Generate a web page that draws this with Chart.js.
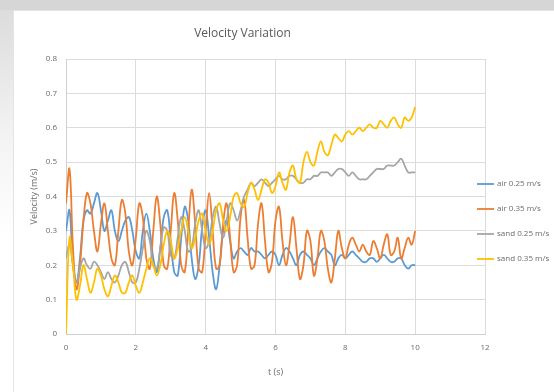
<!DOCTYPE html>
<html>
<head>
<meta charset="utf-8">
<script src="https://cdn.jsdelivr.net/npm/chart.js@4.4.1/dist/chart.umd.min.js"></script>
<style>
  html, body { margin: 0; padding: 0; background: #fff; }
  #wrap { position: relative; width: 554px; height: 392px; overflow: hidden; background: #fff; }
  #topband { position: absolute; left: 0; top: 0; width: 554px; height: 10px; background: #d6d6d6; }
  #side { position: absolute; left: 0; top: 10px; width: 13px; height: 382px;
    background: linear-gradient(160deg, #dcdcdc 0%, #f4f4f4 35%, #ffffff 60%); }
  #panel { position: absolute; left: 13px; top: 10px; width: 541px; height: 382px; border-left: 1px solid #e4e4e4; border-top: 1px solid #e4e4e4; }
  canvas { position: absolute; left: 0; top: 0; filter: blur(0.5px); }
</style>
</head>
<body>
<div id="wrap">
  <div id="topband"></div>
  <div id="side"></div>
  <div id="panel"></div>
  <canvas id="velChart" width="554" height="392"></canvas>
</div>
<script>
// time (s)
const times = [0, 0.1, 0.2, 0.3, 0.4, 0.5, 0.6, 0.7, 0.8, 0.9,
  1, 1.1, 1.2, 1.3, 1.4, 1.5, 1.6, 1.7, 1.8, 1.9,
  2, 2.1, 2.2, 2.3, 2.4, 2.5, 2.6, 2.7, 2.8, 2.9,
  3, 3.1, 3.2, 3.3, 3.4, 3.5, 3.6, 3.7, 3.8, 3.9,
  4, 4.1, 4.2, 4.3, 4.4, 4.5, 4.6, 4.7, 4.8, 4.9,
  5, 5.1, 5.2, 5.3, 5.4, 5.5, 5.6, 5.7, 5.8, 5.9,
  6, 6.1, 6.2, 6.3, 6.4, 6.5, 6.6, 6.7, 6.8, 6.9,
  7, 7.1, 7.2, 7.3, 7.4, 7.5, 7.6, 7.7, 7.8, 7.9,
  8, 8.1, 8.2, 8.3, 8.4, 8.5, 8.6, 8.7, 8.8, 8.9,
  9, 9.1, 9.2, 9.3, 9.4, 9.5, 9.6, 9.7, 9.8, 9.9, 10];

const seriesNames = ['air 0.25 m/s', 'air 0.35 m/s', 'sand 0.25 m/s', 'sand 0.35 m/s'];
const seriesColors = ['#5b9bd5', '#ed7d31', '#a5a5a5', '#ffc000'];

const air025 = [0.30, 0.36, 0.20, 0.15, 0.22, 0.33, 0.36, 0.35, 0.38, 0.41,
  0.36, 0.30, 0.33, 0.36, 0.30, 0.27, 0.30, 0.33, 0.34, 0.30,
  0.24, 0.22, 0.30, 0.35, 0.30, 0.22, 0.18, 0.25, 0.34, 0.36,
  0.27, 0.18, 0.17, 0.28, 0.37, 0.33, 0.22, 0.16, 0.20, 0.31,
  0.36, 0.28, 0.18, 0.13, 0.20, 0.30, 0.33, 0.27, 0.22, 0.24,
  0.25, 0.24, 0.23, 0.25, 0.24, 0.24, 0.23, 0.22, 0.23, 0.24,
  0.23, 0.20, 0.23, 0.25, 0.24, 0.22, 0.20, 0.23, 0.24, 0.23,
  0.22, 0.20, 0.22, 0.24, 0.25, 0.24, 0.23, 0.20, 0.22, 0.23,
  0.22, 0.23, 0.24, 0.23, 0.22, 0.21, 0.21, 0.22, 0.22, 0.21,
  0.22, 0.23, 0.22, 0.21, 0.21, 0.22, 0.22, 0.20, 0.19, 0.20, 0.20];

const air035 = [0.38, 0.48, 0.25, 0.13, 0.20, 0.33, 0.41, 0.38, 0.30, 0.24,
  0.32, 0.38, 0.30, 0.22, 0.20, 0.30, 0.39, 0.35, 0.24, 0.20,
  0.28, 0.38, 0.34, 0.22, 0.19, 0.30, 0.40, 0.32, 0.20, 0.19,
  0.30, 0.41, 0.33, 0.20, 0.18, 0.30, 0.42, 0.32, 0.19, 0.18,
  0.30, 0.41, 0.30, 0.19, 0.20, 0.32, 0.38, 0.28, 0.18, 0.20,
  0.34, 0.39, 0.28, 0.19, 0.20, 0.32, 0.38, 0.27, 0.18, 0.21,
  0.33, 0.37, 0.27, 0.20, 0.26, 0.34, 0.25, 0.16, 0.20, 0.30,
  0.27, 0.17, 0.22, 0.30, 0.27, 0.19, 0.15, 0.22, 0.30, 0.25,
  0.22, 0.26, 0.28, 0.26, 0.24, 0.26, 0.24, 0.23, 0.27, 0.25,
  0.22, 0.26, 0.29, 0.23, 0.24, 0.28, 0.22, 0.25, 0.28, 0.26, 0.30];

const sand025 = [0.22, 0.26, 0.20, 0.15, 0.19, 0.22, 0.20, 0.19, 0.21, 0.20,
  0.18, 0.16, 0.18, 0.16, 0.15, 0.17, 0.20, 0.21, 0.18, 0.15,
  0.15, 0.19, 0.25, 0.30, 0.27, 0.20, 0.19, 0.25, 0.31, 0.30,
  0.23, 0.22, 0.28, 0.34, 0.30, 0.24, 0.25, 0.32, 0.36, 0.30,
  0.25, 0.27, 0.34, 0.37, 0.32, 0.28, 0.33, 0.38, 0.36, 0.33,
  0.36, 0.40, 0.42, 0.44, 0.43, 0.44, 0.45, 0.44, 0.43, 0.44,
  0.45, 0.46, 0.45, 0.45, 0.46, 0.46, 0.45, 0.44, 0.44, 0.45,
  0.45, 0.46, 0.46, 0.47, 0.47, 0.47, 0.46, 0.47, 0.48, 0.48,
  0.47, 0.46, 0.47, 0.46, 0.45, 0.45, 0.45, 0.46, 0.47, 0.48,
  0.48, 0.48, 0.49, 0.49, 0.49, 0.50, 0.51, 0.49, 0.47, 0.47, 0.47];

const sand035 = [0.00, 0.28, 0.20, 0.10, 0.14, 0.20, 0.16, 0.12, 0.15, 0.19,
  0.17, 0.13, 0.11, 0.14, 0.17, 0.15, 0.12, 0.12, 0.15, 0.17,
  0.14, 0.12, 0.15, 0.19, 0.22, 0.20, 0.17, 0.20, 0.26, 0.30,
  0.27, 0.22, 0.25, 0.30, 0.34, 0.30, 0.25, 0.28, 0.33, 0.35,
  0.30, 0.26, 0.30, 0.36, 0.38, 0.33, 0.30, 0.34, 0.40, 0.41,
  0.38, 0.37, 0.41, 0.44, 0.42, 0.39, 0.42, 0.45, 0.44, 0.41,
  0.43, 0.47, 0.44, 0.42, 0.47, 0.49, 0.45, 0.44, 0.50, 0.53,
  0.50, 0.49, 0.53, 0.56, 0.53, 0.52, 0.55, 0.58, 0.57, 0.56,
  0.58, 0.59, 0.58, 0.59, 0.60, 0.59, 0.60, 0.61, 0.60, 0.60,
  0.62, 0.61, 0.60, 0.62, 0.63, 0.61, 0.60, 0.63, 0.62, 0.63, 0.66];

const xTicks = [0, 2, 4, 6, 8, 10, 12];
const yTicks = [0, 0.1, 0.2, 0.3, 0.4, 0.5, 0.6, 0.7, 0.8];

const allSeries = [air025, air035, sand025, sand035];
const fontFamily = "'Open Sans', 'Liberation Sans', sans-serif";
const textColor = '#6b6b6b';

function toPoints(values) {
  return values.map((v, i) => ({ x: times[i], y: v }));
}

const datasets = allSeries.map((vals, i) => ({
  label: seriesNames[i],
  data: toPoints(vals),
  borderColor: seriesColors[i],
  backgroundColor: seriesColors[i],
  borderWidth: 1.8,
  pointRadius: 0,
  tension: 0.4,
  fill: false,
  order: allSeries.length - i
}));

// legend drawn by hand so it can run off the right edge like the original
const sideLegend = {
  id: 'sideLegend',
  afterDraw(chart) {
    const ctx = chart.ctx;
    const top = 184;
    const gap = 25;
    ctx.save();
    ctx.font = '8px ' + fontFamily;
    ctx.textBaseline = 'middle';
    chart.data.datasets.forEach((ds, i) => {
      const y = top + i * gap;
      ctx.strokeStyle = ds.borderColor;
      ctx.lineWidth = 1.8;
      ctx.beginPath();
      ctx.moveTo(477, y);
      ctx.lineTo(494, y);
      ctx.stroke();
      ctx.fillStyle = textColor;
      ctx.fillText(ds.label, 497, y);
    });
    ctx.restore();
  }
};

const ctx = document.getElementById('velChart').getContext('2d');
const velChart = new Chart(ctx, {
  type: 'line',
  data: { datasets: datasets },
  options: {
    responsive: false,
    animation: false,
    layout: { padding: { left: 0, right: 69, top: 0, bottom: 0 } },
    plugins: {
      legend: { display: false },
      tooltip: { enabled: false },
      title: {
        display: true,
        text: 'Velocity Variation',
        color: '#595959',
        font: { family: fontFamily, size: 12, weight: 'normal' },
        padding: { top: 26, bottom: 18.6 }
      }
    },
    scales: {
      x: {
        type: 'linear',
        min: 0,
        max: 12,
        afterFit: (scale) => { scale.height = 58; },
        afterBuildTicks: (scale) => { scale.ticks = xTicks.map(v => ({ value: v })); },
        ticks: { color: textColor, font: { family: fontFamily, size: 8 }, padding: 9, maxRotation: 0 },
        grid: { color: '#dcdcdc', drawTicks: false },
        border: { color: '#d0d0d0' },
        title: {
          display: true,
          text: 't (s)',
          color: textColor,
          font: { family: fontFamily, size: 9 },
          padding: { top: 0, bottom: 14 }
        }
      },
      y: {
        min: 0,
        max: 0.8,
        afterFit: (scale) => { scale.width = 66; },
        afterBuildTicks: (scale) => { scale.ticks = yTicks.map(v => ({ value: v })); },
        ticks: { color: textColor, font: { family: fontFamily, size: 8 }, padding: 9 },
        grid: { color: '#dcdcdc', drawTicks: false },
        border: { color: '#d0d0d0' },
        title: {
          display: true,
          text: 'Velocity (m/s)',
          color: textColor,
          font: { family: fontFamily, size: 9 },
          padding: { top: 29, bottom: 0 }
        }
      }
    }
  },
  plugins: [sideLegend]
});
</script>
</body>
</html>
